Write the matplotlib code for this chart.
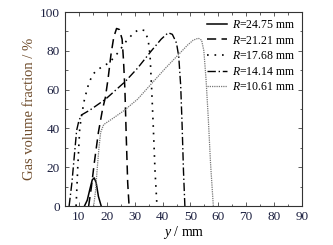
import matplotlib
matplotlib.use("Agg")
import matplotlib.pyplot as plt
from matplotlib.ticker import MultipleLocator

plt.rcParams['font.family'] = ['Liberation Serif', 'DejaVu Serif']
plt.rcParams['mathtext.fontset'] = 'custom'
plt.rcParams['mathtext.rm'] = 'Liberation Serif'
plt.rcParams['mathtext.it'] = 'Liberation Serif:italic'

labels = ["24.75", "21.21", "17.68", "14.14", "10.61"]

x1 = [12, 13, 14, 14.8, 15.5, 16.2, 17, 18]
y1 = [0, 3, 9, 13.5, 14.5, 12, 5, 0]

x2 = [13.5, 14.5, 15.5, 17, 18.5, 19.5, 20.5, 21.5, 22.5, 23.5, 24.5, 25.5, 26, 26.5, 27, 27.5, 28]
y2 = [0, 10, 22, 38, 50, 56, 66, 78, 87, 91.5, 91, 86, 75, 60, 35, 12, 0]

x3 = [9.0, 9.6, 10.3, 11.0, 12.0, 13.5, 15, 17.5, 21, 24, 27, 29.5, 31.5, 33.5, 34.8, 35.5, 36.1, 36.7, 37.3, 38]
y3 = [0, 20, 40, 47, 55, 63, 68, 71, 74, 79, 85, 89, 91, 90.5, 86, 78, 60, 40, 18, 0]

x4 = [6.5, 7.5, 8.5, 9.2, 10, 11, 14, 19.5, 26.5, 31, 36, 39.5, 42, 43.5, 45, 45.8, 46.5, 47, 47.5, 48]
y4 = [0, 12, 28, 39, 44, 47, 49.5, 55, 64, 71, 80, 86, 89.3, 88.5, 84, 77, 62, 42, 18, 0]

x5 = [15.3, 16.0, 16.5, 17.2, 17.8, 18.9, 22, 26, 31, 36, 41, 46, 49, 51, 52.8, 54, 54.8, 55.6, 56.4, 57.2, 58.2]
y5 = [0, 8, 18, 30, 38, 42, 45, 49, 55, 63, 71, 78.5, 83, 85.5, 86.5, 85.5, 80, 65, 45, 22, 0]

xs = [x1, x2, x3, x4, x5]
ys = [y1, y2, y3, y4, y5]
styles = [
    dict(color='black', linestyle='-', linewidth=1.1),
    dict(color='black', linestyle=(0, (6, 3.5)), linewidth=1.1),
    dict(color='black', linestyle=(0, (1, 3.5)), linewidth=1.2),
    dict(color='black', linestyle=(0, (6, 2, 1, 2)), linewidth=1.0),
    dict(color='#777777', linestyle=(0, (1, 0.8)), linewidth=0.9),
]

fig = plt.figure(figsize=(3.33, 2.45), dpi=100)
ax = fig.add_axes([0.195, 0.159, 0.712, 0.792])

for x, y, lab, st in zip(xs, ys, labels, styles):
    ax.plot(x, y, label=r'$\it{R}$=' + lab + ' mm', **st)

ax.set_xlim(5, 90)
ax.set_ylim(0, 100)
ax.xaxis.set_major_locator(MultipleLocator(10))
ax.xaxis.set_minor_locator(MultipleLocator(5))
ax.yaxis.set_major_locator(MultipleLocator(20))
ax.yaxis.set_minor_locator(MultipleLocator(10))
ax.tick_params(which='both', direction='in', top=True, right=True,
               labelsize=9.5, labelcolor='#1c2040', color='#444444', width=0.6)
ax.tick_params(which='major', length=3)
ax.tick_params(which='minor', length=1.8)
for s in ax.spines.values():
    s.set_linewidth(0.8)
    s.set_color('#333333')

ax.set_xlabel(r'$\it{y}$ / mm', fontsize=10, labelpad=1)
ax.set_ylabel('Gas volume fraction / %', fontsize=10.5, color='#6e4b2a', labelpad=3)

leg = ax.legend(loc='upper right', frameon=False, fontsize=8.5,
                handlelength=1.7, handletextpad=0.4, labelspacing=0.3,
                borderaxespad=0.2)

fig.savefig('out.png', dpi=100)
